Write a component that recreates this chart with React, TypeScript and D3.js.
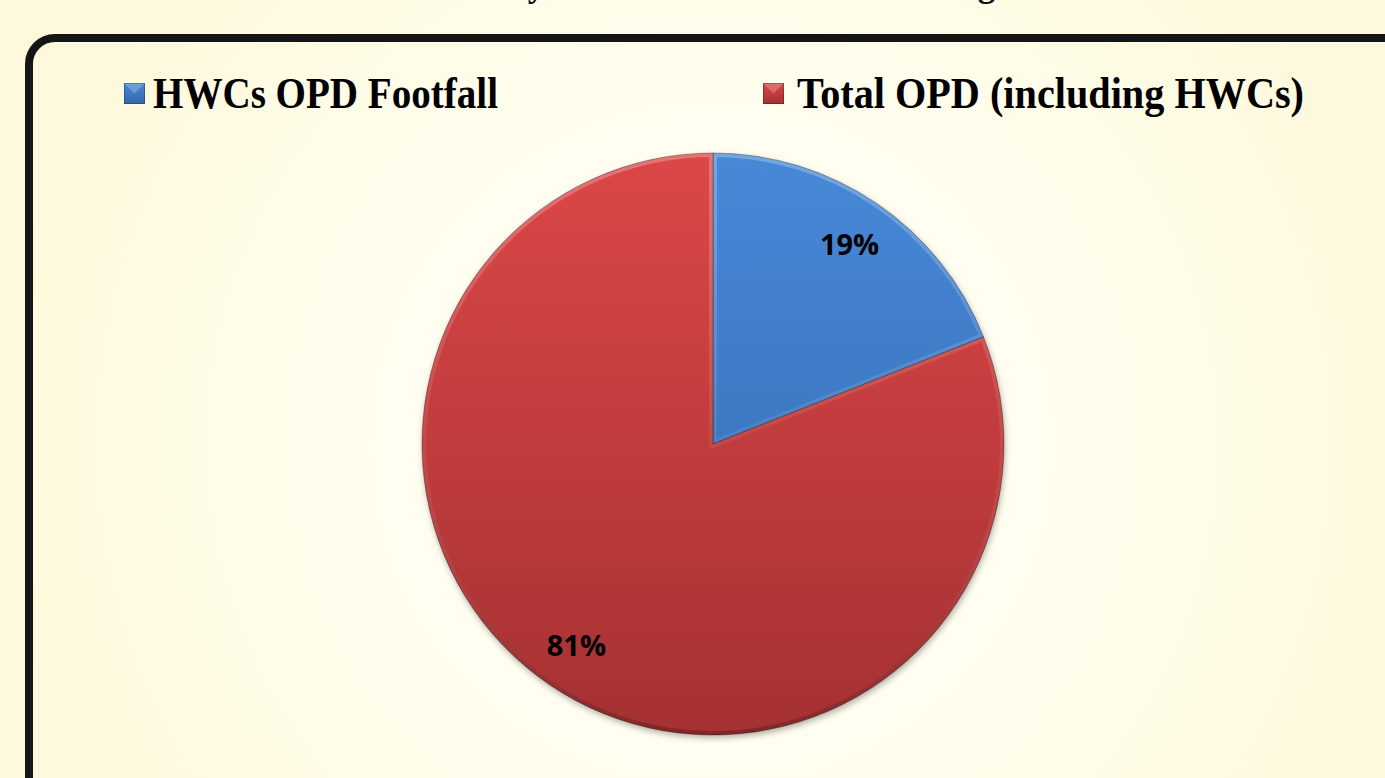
import React from "react";
import * as d3 from "d3";

const categories = ["HWCs OPD Footfall", "Total OPD (including HWCs)"];
const shares = [19, 81];
const labels = ["19%", "81%"];
const titleText = "Contribution by HWCs in Total OPD Coverage";

const W = 1385;
const H = 778;
const cx = 713;
const cy = 444;
const R = 291;

const topColors = ["#4789D8", "#DC4747"];
const bottomColors = ["#3466AC", "#A53132"];

export default function App() {
  const pie = d3.pie<number>().sort(null).value((d) => d);
  const arcs = pie(shares);
  const arcGen = d3.arc<d3.PieArcDatum<number>>().innerRadius(0).outerRadius(R);
  const labelArc = d3.arc<d3.PieArcDatum<number>>().innerRadius(243).outerRadius(243);

  const legendX = [124, 763];
  const legendTextX = [153, 797];
  const legendTextW = [345, 507];

  return (
    <svg
      width={W}
      height={H}
      style={{ position: "absolute", left: 0, top: 0, display: "block" }}
      xmlns="http://www.w3.org/2000/svg"
    >
      <defs>
        <radialGradient id="bg" cx={cx} cy={cy} r={720} gradientUnits="userSpaceOnUse">
          <stop offset="0" stopColor="#FFFFFB" />
          <stop offset="0.55" stopColor="#FFFDEC" />
          <stop offset="1" stopColor="#FEF9DC" />
        </radialGradient>
        {arcs.map((a, i) => (
          <linearGradient
            key={i}
            id={`fill${i}`}
            gradientUnits="userSpaceOnUse"
            x1={0}
            y1={-R}
            x2={0}
            y2={R}
          >
            <stop offset="0" stopColor={topColors[i]} />
            <stop offset="1" stopColor={bottomColors[i]} />
          </linearGradient>
        ))}
        <linearGradient id="edge" gradientUnits="userSpaceOnUse" x1={0} y1={-R} x2={0} y2={R}>
          <stop offset="0" stopColor="#ffffff" stopOpacity="0.25" />
          <stop offset="0.5" stopColor="#ffffff" stopOpacity="0.06" />
          <stop offset="1" stopColor="#000000" stopOpacity="0.22" />
        </linearGradient>
        {arcs.map((a, i) => (
          <clipPath key={i} id={`clip${i}`}>
            <path d={arcGen(a) || ""} />
          </clipPath>
        ))}
        <filter id="shadow" x="-20%" y="-20%" width="140%" height="140%">
          <feGaussianBlur stdDeviation="3" />
        </filter>
        {topColors.map((c, i) => (
          <linearGradient key={i} id={`mk${i}`} x1="0" y1="0" x2="0" y2="1">
            <stop offset="0" stopColor={topColors[i]} />
            <stop offset="1" stopColor={bottomColors[i]} />
          </linearGradient>
        ))}
      </defs>

      <rect x={0} y={0} width={W} height={H} fill="url(#bg)" />

      <text
        x={657}
        y={-4}
        textAnchor="middle"
        fontFamily="'Liberation Serif', serif"
        fontWeight="bold"
        fontSize={35}
        fill="#111"
      >
        {titleText}
      </text>

      <rect
        x={29}
        y={38}
        width={1420}
        height={820}
        rx={26}
        ry={26}
        fill="none"
        stroke="#151515"
        strokeWidth={8}
      />

      {/* legend */}
      {categories.map((c, i) => (
        <g key={c}>
          <rect x={legendX[i]} y={83} width={21} height={21} fill={`url(#mk${i})`} />
          <polygon
            points={`${legendX[i]},83 ${legendX[i] + 21},83 ${legendX[i] + 10.5},93.5`}
            fill="#ffffff"
            opacity={0.22}
          />
          <rect x={legendX[i] + 0.5} y={83.5} width={20} height={20} fill="none" stroke="#000" strokeOpacity={0.25} />
          <text
            x={legendTextX[i]}
            y={108}
            fontFamily="'Liberation Serif', serif"
            fontWeight="bold"
            fontSize={44}
            fill="#000"
            textLength={legendTextW[i]}
            lengthAdjust="spacingAndGlyphs"
          >
            {c}
          </text>
        </g>
      ))}

      {/* shadow */}
      <circle cx={cx + 1} cy={cy + 3} r={R} fill="#000" opacity={0.3} filter="url(#shadow)" />

      <g transform={`translate(${cx},${cy})`}>
        {arcs.map((a, i) => (
          <g key={i}>
            <path d={arcGen(a) || ""} fill={`url(#fill${i})`} />
            <g clipPath={`url(#clip${i})`}>
              <path
                d={arcGen(a) || ""}
                fill="none"
                stroke="url(#edge)"
                strokeWidth={8}
                strokeLinejoin="round"
              />
            </g>
            <path
              d={arcGen(a) || ""}
              fill="none"
              stroke="#000"
              strokeOpacity={0.3}
              strokeWidth={1}
            />
          </g>
        ))}
        {arcs.map((a, i) => {
          const [lx, ly] = labelArc.centroid(a);
          return (
            <text
              key={i}
              x={lx}
              y={ly}
              textAnchor="middle"
              dominantBaseline="central"
              fontFamily="'Open Sans', sans-serif"
              fontWeight="bold"
              fontSize={29}
              fill="#000"
            >
              {labels[i]}
            </text>
          );
        })}
      </g>
    </svg>
  );
}
